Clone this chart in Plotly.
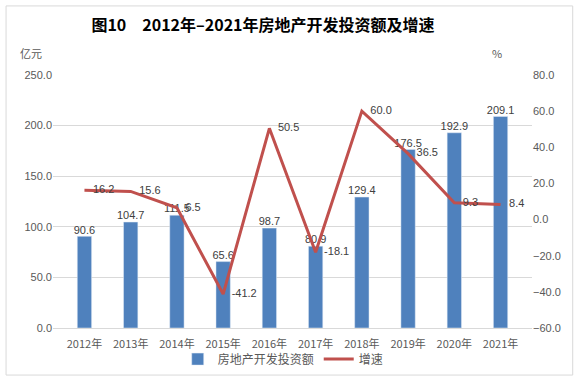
import plotly.graph_objects as go

years = ["2012年", "2013年", "2014年", "2015年", "2016年", "2017年", "2018年", "2019年", "2020年", "2021年"]
investment = [90.6, 104.7, 111.5, 65.6, 98.7, 80.9, 129.4, 176.5, 192.9, 209.1]
growth = [16.2, 15.6, 6.5, -41.2, 50.5, -18.1, 60.0, 36.5, 9.3, 8.4]
left_ticks = [0, 50, 100, 150, 200, 250]
right_ticks = [-60, -40, -20, 0, 20, 40, 60, 80]

font_cn = "Noto Sans CJK SC"
font_num = "Liberation Sans"

fig = go.Figure()
fig.add_trace(go.Bar(
    x=years, y=investment, name="房地产开发投资额",
    marker_color="#4F81BD", width=0.31,
))
fig.add_trace(go.Scatter(
    x=years, y=investment, mode="text", showlegend=False, hoverinfo="skip",
    text=[f"{v:.1f}" for v in investment], textposition="top center",
    textfont=dict(size=11, color="#404040", family=font_num),
    cliponaxis=False,
))
fig.add_trace(go.Scatter(
    x=years, y=growth, name="增速", yaxis="y2", mode="lines+markers+text",
    line=dict(color="#C0504D", width=3),
    marker=dict(size=12, color="rgba(0,0,0,0)"),
    text=[f"{v:.1f}" for v in growth], textposition="middle right",
    textfont=dict(size=11, color="#404040", family=font_num),
    cliponaxis=False,
))

fig.update_layout(
    width=578, height=380,
    margin=dict(l=53, r=46, t=75, b=52, autoexpand=False),
    paper_bgcolor="white", plot_bgcolor="white",
    font=dict(family=font_cn, size=11, color="#595959"),
    title=dict(text="<b>图10　2012年–2021年房地产开发投资额及增速</b>",
               xref="container", yref="container",
               x=0.455, xanchor="center", y=0.932, yanchor="middle",
               font=dict(size=16, color="#000000", family=font_cn)),
    xaxis=dict(showgrid=False, showline=True, linecolor="#D9D9D9", ticks="",
               ticklabelstandoff=6,
               tickfont=dict(size=11, color="#595959", family=font_cn)),
    yaxis=dict(range=[0, 250], tickvals=left_ticks, tickformat=".1f",
               showgrid=True, gridcolor="#D9D9D9", zeroline=False,
               tickfont=dict(size=11, color="#595959", family=font_num)),
    yaxis2=dict(range=[-60, 80], tickvals=right_ticks, tickformat=".1f",
                overlaying="y", side="right", showgrid=False, zeroline=False,
                tickfont=dict(size=11, color="#595959", family=font_num)),
    legend=dict(orientation="h", xref="container", yref="container",
                x=0.49, xanchor="center", y=0.055, yanchor="middle",
                itemwidth=30, tracegroupgap=0, bgcolor="rgba(0,0,0,0)",
                font=dict(size=12, color="#595959", family=font_cn)),
    showlegend=True,
)
fig.add_annotation(text="亿元", xref="paper", yref="paper", x=-0.073, y=1.087,
                   xanchor="left", yanchor="middle", showarrow=False,
                   font=dict(size=11, color="#595959", family=font_cn))
fig.add_annotation(text="%", xref="paper", yref="paper", x=0.927, y=1.087,
                   xanchor="center", yanchor="middle", showarrow=False,
                   font=dict(size=11, color="#595959", family=font_cn))
fig.add_shape(type="rect", xref="paper", yref="paper", x0=-0.098, x1=1.085, y0=-0.186, y1=1.273,
              line=dict(color="#D9D9D9", width=1))
fig.write_html("out.html", config={"displayModeBar": False},
               post_script="document.body.style.margin='0';document.body.style.overflow='hidden';")
